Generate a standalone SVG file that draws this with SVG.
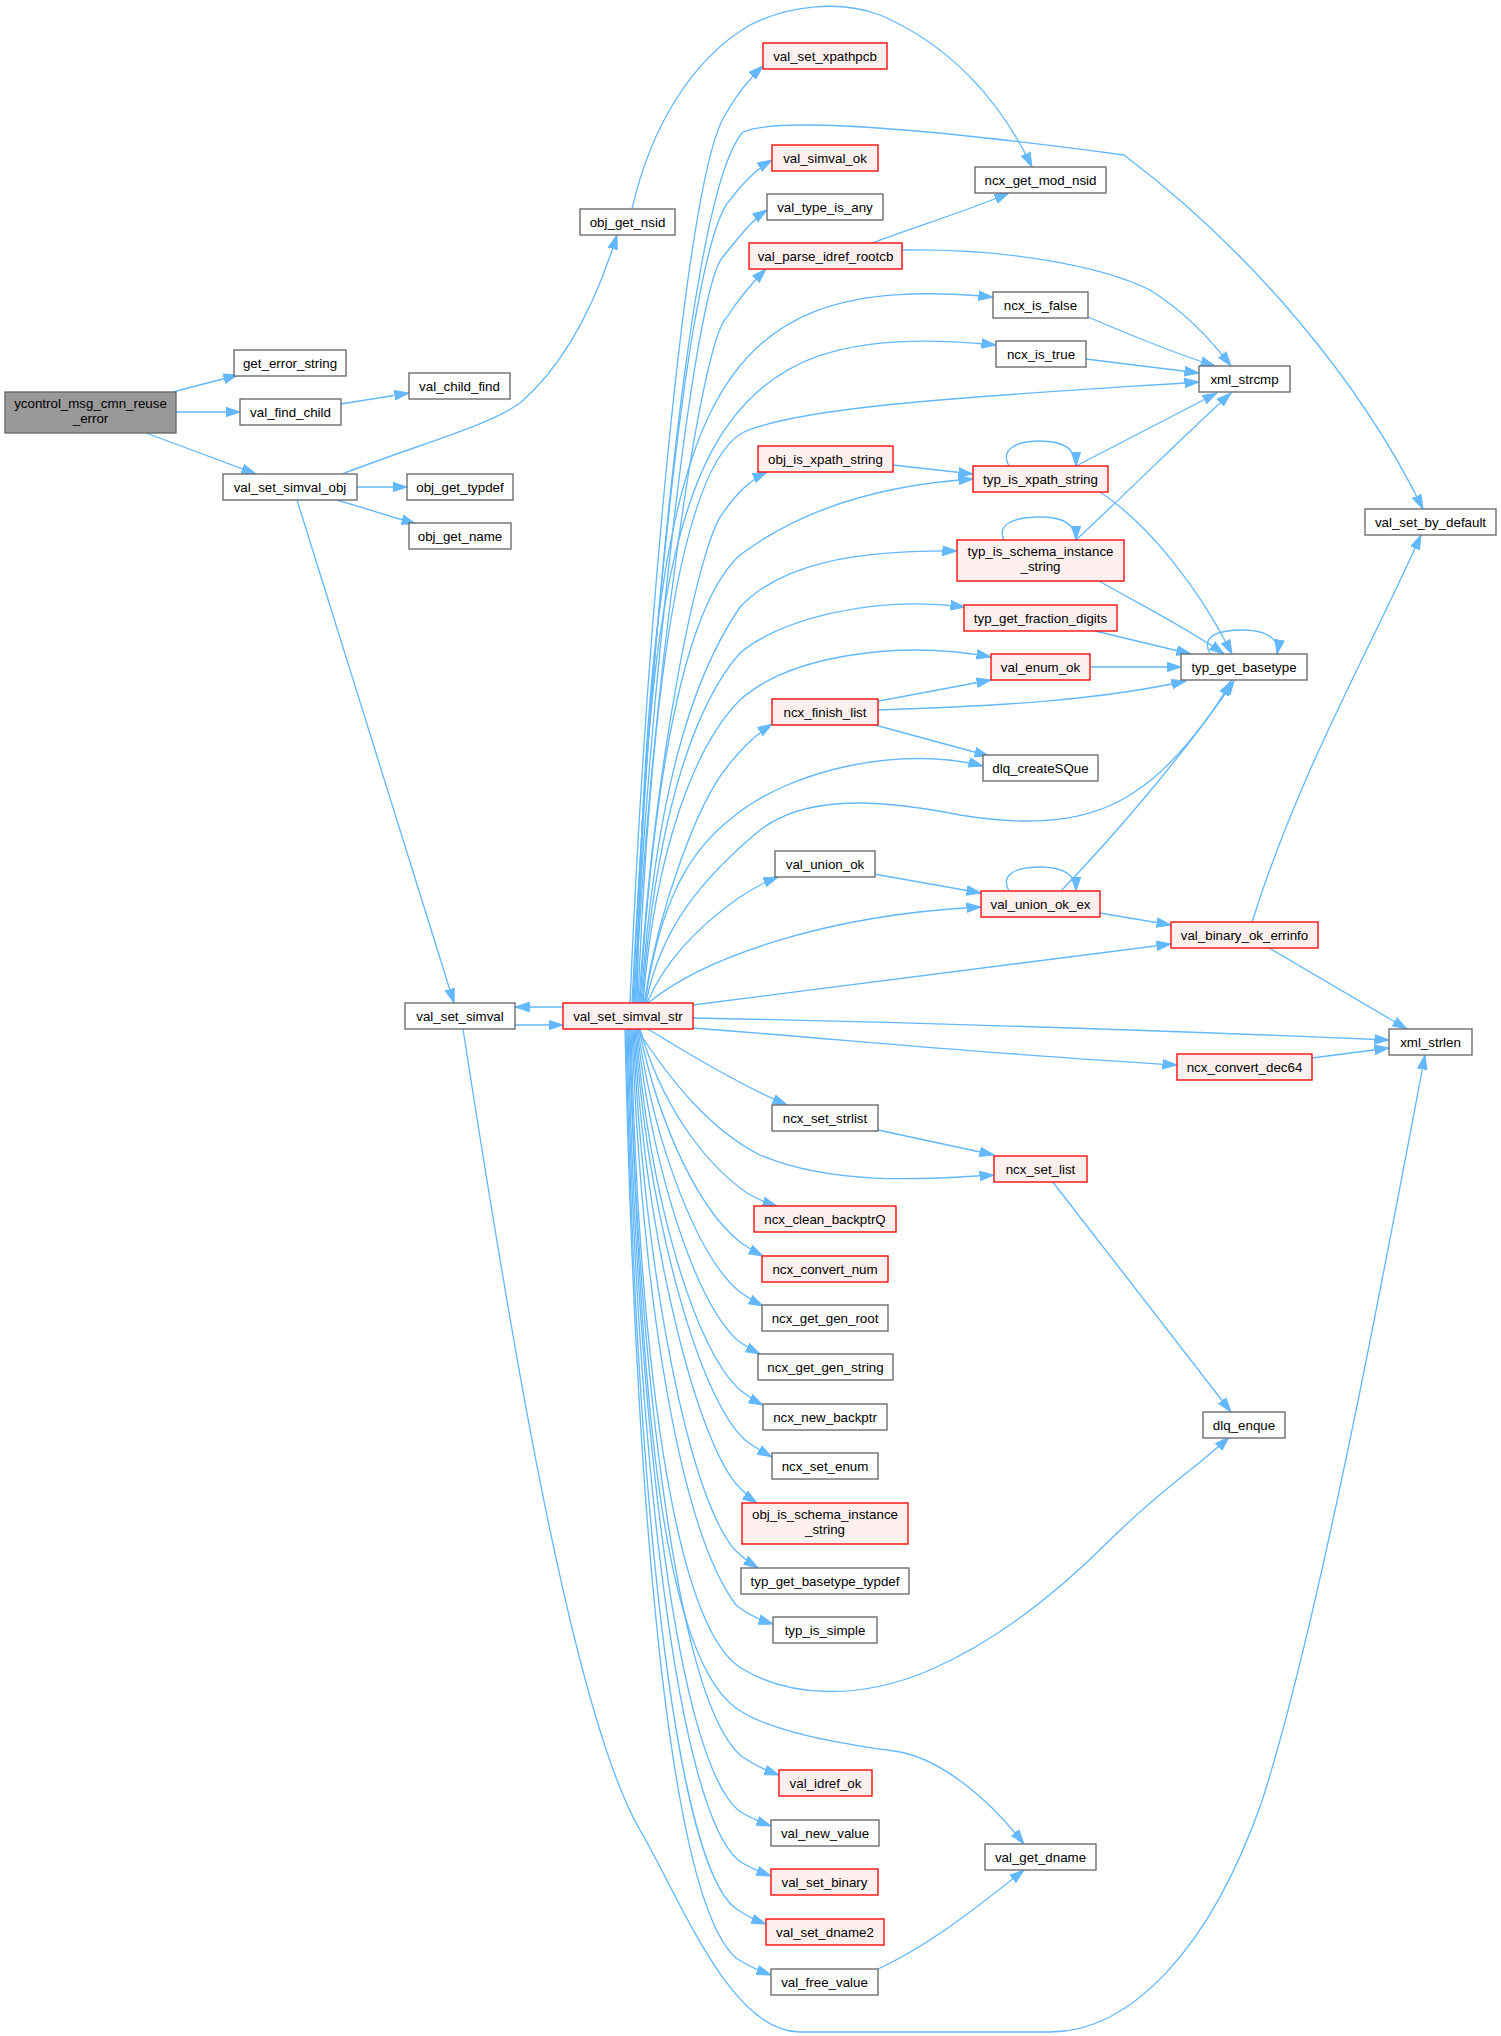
<svg xmlns="http://www.w3.org/2000/svg" width="1501" height="2036" viewBox="0 0 1501 2036">
<style>
.n rect{fill:#ffffff;stroke:#666666;stroke-width:1.33}
.r rect{fill:#fff0f0;stroke:#ff0000;stroke-width:1.33}
.root rect{fill:#999999;stroke:#666666;stroke-width:1.33}
text{font-family:"Liberation Sans",Arial,Helvetica,sans-serif;font-size:13.33px;fill:#000000;text-anchor:middle}
.e path{fill:none;stroke:#63b8ff;stroke-width:1.33;marker-end:url(#a)}
</style>
<defs>
<marker id="a" markerUnits="userSpaceOnUse" markerWidth="16" markerHeight="11" refX="14.5" refY="5" orient="auto" viewBox="0 0 16 10">
<path d="M0,0.2 L14.5,5 L0,9.8 z" fill="#63b8ff" stroke="#63b8ff" stroke-width="1"/>
</marker>
</defs>
<rect width="1501" height="2036" fill="#ffffff"/>
<g id="edges" class="e">
<path d="M173,392 L238,375"/>
<path d="M176,412 L240,412"/>
<path d="M146,433 L256,474"/>
<path d="M341,404 L409,393"/>
<path d="M342,474 C420,444 490,425 520,403 C570,360 600,290 617,235"/>
<path d="M357,487 L407,487"/>
<path d="M337,500 L416,524"/>
<path d="M297,500 L454,1003"/>
<path d="M632,209 C650,130 690,60 750,25 C790,5 840,0 880,15 C950,45 1000,100 1032,167"/>
<path d="M563,1007 L515,1007"/>
<path d="M515,1025 L563,1025"/>
<path d="M463,1029 C505,1300 570,1710 640,1830 C680,1898 730,2032 800,2032 L1050,2032 C1130,2032 1210,1950 1262,1801 C1320,1620 1390,1240 1425,1055"/>
<path d="M630,1003 C645,650 685,180 725,115 C738,92 750,78 763,66"/>
<path d="M632,1003 C650,650 690,190 743,132 C775,118 900,125 1124,155 C1250,250 1360,380 1423,509"/>
<path d="M633,1003 C648,650 690,240 730,200 C745,180 758,168 772,160"/>
<path d="M634,1003 C650,680 695,290 722,258 C740,236 752,220 767,210"/>
<path d="M635,1003 C650,700 700,340 727,317 C738,300 752,283 766,269"/>
<path d="M636,1003 C650,400 700,270 993,297"/>
<path d="M637,1003 C648,440 705,315 996,345"/>
<path d="M638,1003 C650,700 680,470 742,433 C800,405 1000,395 1199,382"/>
<path d="M639,1003 C655,750 700,540 723,513 C735,495 750,480 767,472"/>
<path d="M640,1003 C655,750 690,600 740,555 C800,510 880,485 973,479"/>
<path d="M641,1003 C655,800 690,680 740,607 C780,565 850,550 957,551"/>
<path d="M642,1003 C655,830 690,710 740,653 C780,620 870,595 965,607"/>
<path d="M643,1003 C655,850 695,745 740,700 C790,655 900,640 991,657"/>
<path d="M644,1003 C660,900 700,800 727,767 C740,750 755,735 772,724"/>
<path d="M645,1003 C660,900 690,850 733,817 C790,770 900,745 983,766"/>
<path d="M646,1003 C660,930 700,880 760,830 C800,800 860,795 960,815 C1050,830 1100,815 1133,793 C1170,770 1210,720 1231,681"/>
<path d="M647,1003 C665,960 700,925 740,897 C752,889 765,882 778,877"/>
<path d="M648,1003 C700,960 820,915 981,907"/>
<path d="M693,1005 C850,985 1000,965 1171,944"/>
<path d="M693,1018 C900,1022 1150,1030 1389,1040"/>
<path d="M693,1028 C850,1040 1000,1055 1177,1065"/>
<path d="M648,1029 C690,1055 740,1085 787,1105"/>
<path d="M637,1029 C670,1080 710,1130 760,1155 C830,1185 920,1180 994,1175"/>
<path d="M640,1029 C660,1100 700,1160 747,1193 C757,1199 767,1203 777,1206"/>
<path d="M639,1029 C660,1130 700,1210 740,1242 C748,1248 755,1252 763,1256"/>
<path d="M638,1029 C655,1150 700,1260 740,1292 C748,1298 755,1302 763,1306"/>
<path d="M637,1029 C652,1170 695,1300 737,1340 C745,1346 752,1350 760,1354"/>
<path d="M636,1029 C650,1200 695,1350 740,1390 C748,1396 755,1401 763,1405"/>
<path d="M635,1029 C648,1220 700,1400 745,1440 C754,1447 763,1452 772,1457"/>
<path d="M634,1029 C646,1250 700,1450 740,1488 C746,1494 751,1499 757,1503"/>
<path d="M633,1029 C645,1280 690,1500 735,1550 C743,1558 750,1563 758,1568"/>
<path d="M632,1029 C642,1300 680,1530 736,1605 C748,1615 760,1620 773,1624"/>
<path d="M631,1029 C640,1400 680,1630 741,1668 C790,1698 860,1700 930,1670 C1000,1640 1060,1590 1110,1540 C1160,1490 1200,1465 1229,1437"/>
<path d="M630,1029 C640,1450 670,1660 736,1708 C770,1733 850,1745 894,1751 C940,1757 990,1800 1024,1844"/>
<path d="M629,1029 C640,1400 680,1700 740,1755 C752,1764 765,1770 779,1775"/>
<path d="M628,1029 C638,1450 680,1760 738,1810 C748,1817 760,1822 771,1826"/>
<path d="M627,1029 C637,1480 680,1810 738,1860 C748,1867 760,1872 771,1876"/>
<path d="M626,1029 C636,1500 675,1860 735,1908 C745,1915 755,1920 766,1924"/>
<path d="M625,1029 C636,1520 670,1900 736,1958 C748,1966 760,1971 771,1975"/>
<path d="M872,243 C920,225 970,210 1009,193"/>
<path d="M902,250 C1000,248 1100,265 1150,290 C1190,315 1215,345 1231,366"/>
<path d="M1088,317 C1130,335 1180,355 1215,366"/>
<path d="M1086,359 L1199,373"/>
<path d="M893,465 L973,474"/>
<path d="M1009,466 C1000,450 1015,441 1040,441 C1062,441 1076,448 1076,466"/>
<path d="M1076,466 L1217,393"/>
<path d="M1100,492 C1150,525 1200,590 1232,654"/>
<path d="M1004,540 C996,524 1015,517 1040,517 C1062,517 1076,524 1076,540"/>
<path d="M1076,540 C1140,480 1190,430 1231,393"/>
<path d="M1099,581 C1150,610 1190,630 1224,654"/>
<path d="M1095,631 L1191,654"/>
<path d="M1090,667 L1181,667"/>
<path d="M1210,654 C1200,635 1220,630 1243,630 C1265,630 1280,638 1277,654"/>
<path d="M879,701 L991,680"/>
<path d="M878,710 C1000,706 1100,700 1186,681"/>
<path d="M875,725 L989,756"/>
<path d="M874,874 L981,893"/>
<path d="M1009,891 C1000,875 1015,867 1040,867 C1062,867 1076,874 1076,891"/>
<path d="M1061,891 C1110,840 1180,760 1234,681"/>
<path d="M1100,913 L1171,925"/>
<path d="M1252,922 C1300,770 1370,650 1421,535"/>
<path d="M1269,948 L1407,1029"/>
<path d="M1312,1058 L1389,1048"/>
<path d="M878,1130 L994,1155"/>
<path d="M1052,1181 L1231,1412"/>
<path d="M878,1969 C930,1945 980,1905 1024,1870"/>
</g>
<g id="ycontrol_msg_cmn_reuse_error" class="root"><rect x="5" y="392" width="171" height="41"/><text x="90.5" y="407.5">ycontrol_msg_cmn_reuse</text><text x="90.5" y="422.5">_error</text></g>
<g id="get_error_string" class="n"><rect x="234" y="350" width="112" height="26"/><text x="290" y="368">get_error_string</text></g>
<g id="val_find_child" class="n"><rect x="240" y="399" width="101" height="26"/><text x="290.5" y="417">val_find_child</text></g>
<g id="val_child_find" class="n"><rect x="409" y="373" width="101" height="26"/><text x="459.5" y="391">val_child_find</text></g>
<g id="val_set_simval_obj" class="n"><rect x="223" y="474" width="134" height="26"/><text x="290" y="492">val_set_simval_obj</text></g>
<g id="obj_get_nsid" class="n"><rect x="580" y="209" width="95" height="26"/><text x="627.5" y="227">obj_get_nsid</text></g>
<g id="obj_get_typdef" class="n"><rect x="407" y="474" width="106" height="26"/><text x="460" y="492">obj_get_typdef</text></g>
<g id="obj_get_name" class="n"><rect x="409" y="523" width="102" height="26"/><text x="460" y="541">obj_get_name</text></g>
<g id="val_set_simval" class="n"><rect x="405" y="1003" width="110" height="26"/><text x="460" y="1021">val_set_simval</text></g>
<g id="val_set_simval_str" class="r"><rect x="563" y="1003" width="130" height="26"/><text x="628" y="1021">val_set_simval_str</text></g>
<g id="val_set_xpathpcb" class="r"><rect x="763" y="43" width="124" height="26"/><text x="825" y="61">val_set_xpathpcb</text></g>
<g id="ncx_get_mod_nsid" class="n"><rect x="975" y="167" width="131" height="26"/><text x="1040.5" y="185">ncx_get_mod_nsid</text></g>
<g id="val_simval_ok" class="r"><rect x="772" y="145" width="106" height="26"/><text x="825" y="163">val_simval_ok</text></g>
<g id="val_type_is_any" class="n"><rect x="767" y="194" width="116" height="26"/><text x="825" y="212">val_type_is_any</text></g>
<g id="val_parse_idref_rootcb" class="r"><rect x="749" y="243" width="153" height="26"/><text x="825.5" y="261">val_parse_idref_rootcb</text></g>
<g id="ncx_is_false" class="n"><rect x="993" y="292" width="95" height="26"/><text x="1040.5" y="310">ncx_is_false</text></g>
<g id="ncx_is_true" class="n"><rect x="996" y="341" width="90" height="26"/><text x="1041" y="359">ncx_is_true</text></g>
<g id="xml_strcmp" class="n"><rect x="1199" y="366" width="91" height="26"/><text x="1244.5" y="384">xml_strcmp</text></g>
<g id="obj_is_xpath_string" class="r"><rect x="758" y="446" width="135" height="26"/><text x="825.5" y="464">obj_is_xpath_string</text></g>
<g id="typ_is_xpath_string" class="r"><rect x="973" y="466" width="135" height="26"/><text x="1040.5" y="484">typ_is_xpath_string</text></g>
<g id="val_set_by_default" class="n"><rect x="1365" y="509" width="131" height="26"/><text x="1430.5" y="527">val_set_by_default</text></g>
<g id="typ_is_schema_instance_string" class="r"><rect x="957" y="540" width="167" height="41"/><text x="1040.5" y="555.5">typ_is_schema_instance</text><text x="1040.5" y="570.5">_string</text></g>
<g id="typ_get_fraction_digits" class="r"><rect x="964" y="605" width="153" height="26"/><text x="1040.5" y="623">typ_get_fraction_digits</text></g>
<g id="val_enum_ok" class="r"><rect x="991" y="654" width="99" height="26"/><text x="1040.5" y="672">val_enum_ok</text></g>
<g id="typ_get_basetype" class="n"><rect x="1181" y="654" width="126" height="26"/><text x="1244" y="672">typ_get_basetype</text></g>
<g id="ncx_finish_list" class="r"><rect x="772" y="699" width="106" height="26"/><text x="825" y="717">ncx_finish_list</text></g>
<g id="dlq_createSQue" class="n"><rect x="983" y="755" width="115" height="26"/><text x="1040.5" y="773">dlq_createSQue</text></g>
<g id="val_union_ok" class="n"><rect x="775" y="851" width="100" height="26"/><text x="825" y="869">val_union_ok</text></g>
<g id="val_union_ok_ex" class="r"><rect x="981" y="891" width="119" height="26"/><text x="1040.5" y="909">val_union_ok_ex</text></g>
<g id="val_binary_ok_errinfo" class="r"><rect x="1171" y="922" width="147" height="26"/><text x="1244.5" y="940">val_binary_ok_errinfo</text></g>
<g id="xml_strlen" class="n"><rect x="1389" y="1029" width="83" height="26"/><text x="1430.5" y="1047">xml_strlen</text></g>
<g id="ncx_convert_dec64" class="r"><rect x="1177" y="1054" width="135" height="26"/><text x="1244.5" y="1072">ncx_convert_dec64</text></g>
<g id="ncx_set_strlist" class="n"><rect x="772" y="1105" width="106" height="26"/><text x="825" y="1123">ncx_set_strlist</text></g>
<g id="ncx_set_list" class="r"><rect x="994" y="1156" width="93" height="26"/><text x="1040.5" y="1174">ncx_set_list</text></g>
<g id="ncx_clean_backptrQ" class="r"><rect x="754" y="1206" width="142" height="26"/><text x="825" y="1224">ncx_clean_backptrQ</text></g>
<g id="ncx_convert_num" class="r"><rect x="762" y="1256" width="126" height="26"/><text x="825" y="1274">ncx_convert_num</text></g>
<g id="ncx_get_gen_root" class="n"><rect x="762" y="1305" width="126" height="26"/><text x="825" y="1323">ncx_get_gen_root</text></g>
<g id="ncx_get_gen_string" class="n"><rect x="758" y="1354" width="135" height="26"/><text x="825.5" y="1372">ncx_get_gen_string</text></g>
<g id="ncx_new_backptr" class="n"><rect x="763" y="1404" width="124" height="26"/><text x="825" y="1422">ncx_new_backptr</text></g>
<g id="ncx_set_enum" class="n"><rect x="772" y="1453" width="106" height="26"/><text x="825" y="1471">ncx_set_enum</text></g>
<g id="obj_is_schema_instance_string" class="r"><rect x="742" y="1503" width="166" height="41"/><text x="825" y="1518.5">obj_is_schema_instance</text><text x="825" y="1533.5">_string</text></g>
<g id="typ_get_basetype_typdef" class="n"><rect x="741" y="1568" width="168" height="26"/><text x="825" y="1586">typ_get_basetype_typdef</text></g>
<g id="typ_is_simple" class="n"><rect x="773" y="1617" width="104" height="26"/><text x="825" y="1635">typ_is_simple</text></g>
<g id="dlq_enque" class="n"><rect x="1203" y="1412" width="82" height="26"/><text x="1244" y="1430">dlq_enque</text></g>
<g id="val_idref_ok" class="r"><rect x="779" y="1770" width="93" height="26"/><text x="825.5" y="1788">val_idref_ok</text></g>
<g id="val_new_value" class="n"><rect x="771" y="1820" width="108" height="26"/><text x="825" y="1838">val_new_value</text></g>
<g id="val_set_binary" class="r"><rect x="771" y="1869" width="107" height="26"/><text x="824.5" y="1887">val_set_binary</text></g>
<g id="val_set_dname2" class="r"><rect x="766" y="1919" width="118" height="26"/><text x="825" y="1937">val_set_dname2</text></g>
<g id="val_free_value" class="n"><rect x="771" y="1969" width="107" height="26"/><text x="824.5" y="1987">val_free_value</text></g>
<g id="val_get_dname" class="n"><rect x="985" y="1844" width="111" height="26"/><text x="1040.5" y="1862">val_get_dname</text></g>
</svg>
